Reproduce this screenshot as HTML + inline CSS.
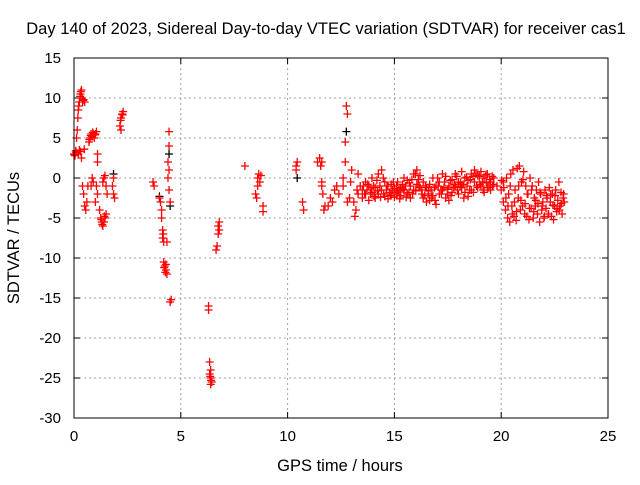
<!DOCTYPE html>
<html><head><meta charset="utf-8"><style>
body{margin:0;background:#fff}
svg text{font-family:"Liberation Sans",sans-serif;font-size:15px;fill:#000}
svg text.big{font-size:16.5px}
</style></head><body>
<svg id="chart" width="640" height="480" viewBox="0 0 640 480" xmlns="http://www.w3.org/2000/svg">
<rect width="640" height="480" fill="#fff"/>
<g id="grid"></g>
<g id="ticks"></g>
<g id="marks"></g>
<rect x="74" y="58" width="534" height="360" fill="none" stroke="#000" stroke-width="1"/>
<text class="big" x="326" y="34" text-anchor="middle">Day 140 of 2023, Sidereal Day-to-day VTEC variation (SDTVAR) for receiver cas1</text>
<text class="big" x="340" y="471" text-anchor="middle">GPS time / hours</text>
<text class="big" transform="translate(19,238) rotate(-90)" text-anchor="middle">SDTVAR / TECUs</text>
</svg>
<script>
const xTicks=[0,5,10,15,20,25];
const yTicks=[15,10,5,0,-5,-10,-15,-20,-25,-30];
const redT=[0,0.05,0.1,0.12,0.15,0.18,0.2,0.25,0.3,0.35,0.38,0.4,0.45,0.5,0.2,0.25,0.3,0.35,
0.4,0.45,0.5,0.55,0.6,0.65,0.7,0.75,0.8,0.85,0.9,0.95,1.0,1.05,0.8,0.85,0.9,
1.0,1.05,1.1,1.1,1.1,1.2,1.25,1.3,1.35,1.4,1.45,1.5,1.35,1.4,1.45,1.5,1.55,
1.8,1.85,1.9,1.85,2.15,2.2,2.25,2.3,2.2,
3.7,3.75,4.0,4.05,4.1,4.1,4.15,4.15,4.2,4.2,4.25,4.3,4.35,4.3,4.35,
4.45,4.45,4.4,4.45,4.4,4.45,4.5,4.5,4.55,
6.3,6.3,6.35,6.4,6.35,6.4,6.45,6.4,
6.7,6.65,6.75,6.8,6.8,6.75,
8.0,8.5,8.55,8.6,8.65,8.7,8.75,8.6,8.85,8.85,
10.4,10.45,10.4,10.7,10.75,
11.4,11.5,11.6,11.55,11.6,11.6,11.65,11.7,11.75,11.9,12.0,12.1,12.2,12.3,12.4,
12.7,12.75,12.8,12.7,12.6,12.6,12.8,12.9,12.95,13.0,13.1,13.15,13.2,13.25,13.3,13.3,13.4,
13.5,13.5,13.65,13.65,13.8,13.8,13.95,13.95,14.1,14.1,14.25,14.25,14.4,14.4,14.55,14.55,14.7,14.7,14.85,14.85,15.0,15.0,15.15,15.15,15.3,15.3,15.45,15.45,15.6,15.6,15.75,15.75,15.9,15.9,16.05,16.05,16.2,16.2,16.35,16.35,16.5,16.5,16.65,16.65,16.8,16.8,16.95,16.95,17.1,17.1,17.25,17.25,17.4,17.4,17.55,17.55,17.7,17.7,17.85,17.85,18.0,18.0,18.15,18.15,18.3,18.3,18.45,18.45,18.6,18.6,18.75,18.75,18.9,18.9,19.05,19.05,19.2,19.2,19.35,19.35,19.5,19.5,19.65,19.65,
19.8,20.0,20.1,20.1,20.2,20.25,20.3,20.35,20.4,20.45,20.5,20.55,20.6,20.65,20.7,20.75,20.8,20.85,20.9,20.95,21.0,21.05,21.1,21.15,21.2,21.25,21.3,21.35,21.4,21.45,21.5,21.55,21.6,21.65,21.7,21.75,21.8,21.85,21.9,21.95,22.0,22.05,22.1,22.15,22.2,22.25,22.3,22.35,22.4,22.45,22.5,22.55,22.6,22.65,22.7,22.75,22.8,22.85,22.9,22.95,
0.02,0.08,0.22,0.28,0.32,0.42,0.48,0.72,0.78,0.88,0.98,1.28,1.32,1.42,2.18,2.28,4.18,4.22,4.28,6.38,6.42,
13.55,13.6,13.72,13.75,13.88,13.9,14.02,14.05,14.18,14.2,14.32,14.35,14.48,14.5,14.62,14.65,14.78,14.8,14.92,14.95,15.08,15.1,15.22,15.25,15.38,15.4,15.52,15.55,15.68,15.7,15.82,15.85,15.98,16.0,16.12,16.15,16.28,16.3,16.42,16.45,16.58,16.6,16.72,16.75,16.88,16.9,17.02,17.05,17.18,17.2,17.32,17.35,17.48,17.5,17.62,17.65,17.78,17.8,17.92,17.95,18.08,18.1,18.22,18.25,18.38,18.4,18.52,18.55,18.68,18.7,18.82,18.85,18.98,19.0,19.12,19.15,19.28,19.3,19.42,19.45,19.58,19.6,
20.02,20.12,20.22,20.32,20.42,20.52,20.62,20.72,20.82,20.92,21.02,21.12,21.22,21.32,21.42,21.52,21.62,21.72,21.82,21.92,22.02,22.12,22.22,22.32,22.42,22.52,22.62,22.72,22.82,22.92];
const redV=[3,2.8,3.2,5,6,7.5,8.5,9.5,10.5,11,10,9.5,9.8,9.5,3,3.5,3.3,2.5,
-1,-2,-3.5,-4,-3,-1,4.5,5,5.5,5.2,5.5,5,5.5,5.8,-1,0,-0.5,
-3,-1,-2,2,3,-4,-5,-5.5,-6,-5.5,-5,-4.5,-0.5,0,0.3,-1,-2,
-1,-2,-2.5,0,6.5,7.5,8,8.3,6,
-0.5,-1,-2.5,-3,-4,-5,-6.5,-7.5,-8,-10.5,-11,-11.5,-12,-10.8,-8,
5.8,4,2,1,0,-1.5,-3,-15.5,-15.2,
-16,-16.5,-23,-24,-24.5,-25,-25.5,-25.8,
-8.5,-9,-6,-6.5,-5.5,-7,
1.5,-2,-2.5,0,0.5,-0.5,0.3,-1,-3.5,-4.2,
1.5,2,1,-3,-4,
2,2.5,2,1.5,-0.5,-1,-2,-4,-3.5,-3.5,-2.5,-3,-1.5,-1,-2,
4.5,9,8,2,0,-1,-3,-2.5,-0.5,1,-3,-4.8,-4,-1.5,-2,0.5,-1,
-1.5,-2.5,-0.5,-2,-1,-2.8,0,-1.8,-1.2,-2.5,0.5,-2,1,-1.5,-0.5,-2.3,-1,-2.6,-0.8,-2,-1.3,-2.4,-0.5,-1.8,-1.2,-2.2,0,-1.5,-0.3,-2,-1,-2.5,0.5,-1.5,1,-0.8,0.3,-1.2,-0.5,-2.5,-1.2,-3,-0.8,-2.8,0,-2.2,-1,-3.3,-0.5,-2,0.5,-1.5,0.2,-2.5,-1,-2.8,-0.2,-1.8,0.5,-1,-0.5,-2,0.8,-1.2,0,-1.8,-0.3,-2.3,0.5,-1.5,1,-0.5,0.3,-1.2,0.8,-1,0,-1.8,0.5,-1.2,-0.5,-1.5,0,-0.8,
-1,-1.5,-3,-0.5,-4,0,-5,-2,-5.5,0.5,-3.5,1,-4.8,-1.5,-5.3,1.2,-2.5,1.5,-4,-0.5,-3.5,0.8,-4.5,-1,-4.8,-2,-5.2,0,-3.8,-1,-5,-2.5,-3.5,-1.5,-4.5,-0.5,-5.5,-2,-4,-3,-5,-1.5,-3.8,-2.5,-4.5,-1.2,-3,-4.8,-2,-5.2,-3.5,-1.5,-4.2,-2.8,-0.5,-3.5,-1.8,-4.5,-2.5,-3,
2.9,3.4,9,10.2,10.8,9.7,3.6,4.8,5.3,5.7,5.4,-5.2,-5.8,-4.8,7.2,7.9,-7,-11.2,-11.8,-24.8,-25.3,
-1,-2,-1.5,-0.8,-2,-1.2,-1,-2.3,-0.3,-1.6,-1,-2.4,0,-2,-1.5,-1,-1.8,-2.2,-1.5,-0.5,-2,-1,-1.6,-2.6,-0.8,-1.4,-1,-2.4,-1.8,-0.6,-0.2,-2,0.5,-1.6,-0.2,-1,-1.5,-2,-2.2,-1,-2,-1.6,-1.5,-2.5,-1.2,-2.8,0,-1,-1.5,-2,-1.2,-0.5,-2,-1.4,-0.3,-2.2,-1.2,-0.8,0.2,-1.5,-1.1,-0.6,-0.8,-2.5,0.1,-1,-1.5,-0.2,0.2,-1.8,0.5,-1,0.2,-0.8,-0.5,-1.5,0.4,-0.6,-1.2,-0.2,0.2,-1,-0.3,-1.2,
-2.5,-3.5,-1,-4.5,-3,-4.2,-1,-2.8,-0.2,-3.2,-2,-3.8,-1.5,-4.2,-2.8,-3.2,-1.8,-3.5,-4.8,-2.2,-4.5,-2,-3.4,-2.2,-3.8,-4,-3.2,-2,-3.6,-2]
const blackT=[12.75,10.45,4.5,4.45,1.85,4.0];
const blackV=[5.8,0,-3.5,3,0.5,-2.3];

const X0=74,X1=608,Y0=58,Y1=418;
const xs=v=>X0+(v-0)/25*(X1-X0);
const ys=v=>Y1-(v+30)/45*(Y1-Y0);
const NS='http://www.w3.org/2000/svg';
const grid=document.getElementById('grid'),ticks=document.getElementById('ticks'),marks=document.getElementById('marks');
function mk(tag,attrs,parent){const e=document.createElementNS(NS,tag);for(const k in attrs)e.setAttribute(k,attrs[k]);parent.appendChild(e);return e;}
xTicks.forEach(t=>{
  const x=xs(t);
  if(t>0&&t<25){const g=mk('line',{x1:x,x2:x,y1:Y0,y2:Y1,stroke:'#a0a0a0','stroke-dasharray':'2,3'},grid);
  
  }
  mk('line',{x1:x,x2:x,y1:Y1,y2:Y1-6,stroke:'#000'},ticks);
  mk('line',{x1:x,x2:x,y1:Y0,y2:Y0+6,stroke:'#000'},ticks);
  const tx=mk('text',{x:x,y:Y1+23,'text-anchor':'middle'},ticks);tx.textContent=t;
  
  
});
yTicks.forEach(t=>{
  const y=ys(t);
  if(t<15&&t>-30){const g=mk('line',{x1:X0,x2:X1,y1:y,y2:y,stroke:'#a0a0a0','stroke-dasharray':'2,3'},grid);
  
  }
  mk('line',{x1:X0,x2:X0+6,y1:y,y2:y,stroke:'#000'},ticks);
  mk('line',{x1:X1,x2:X1-6,y1:y,y2:y,stroke:'#000'},ticks);
  const tx=mk('text',{x:X0-13,y:y+5,'text-anchor':'end'},ticks);tx.textContent=t;
  
  
});
function plus(T,V,color,name){
  let d='';
  for(let i=0;i<T.length;i++){const x=xs(T[i]),y=ys(V[i]);d+=`M${x-4},${y}h8M${x},${y-4}v8`;}
  const p=mk('path',{d:d,stroke:color,'stroke-width':1.3,fill:'none'},marks);
  
  
}
plus(blackT,blackV,'#000','black-series-points');
plus(redT,redV,'#ff0000','red-series-points');
</script>
</body></html>
